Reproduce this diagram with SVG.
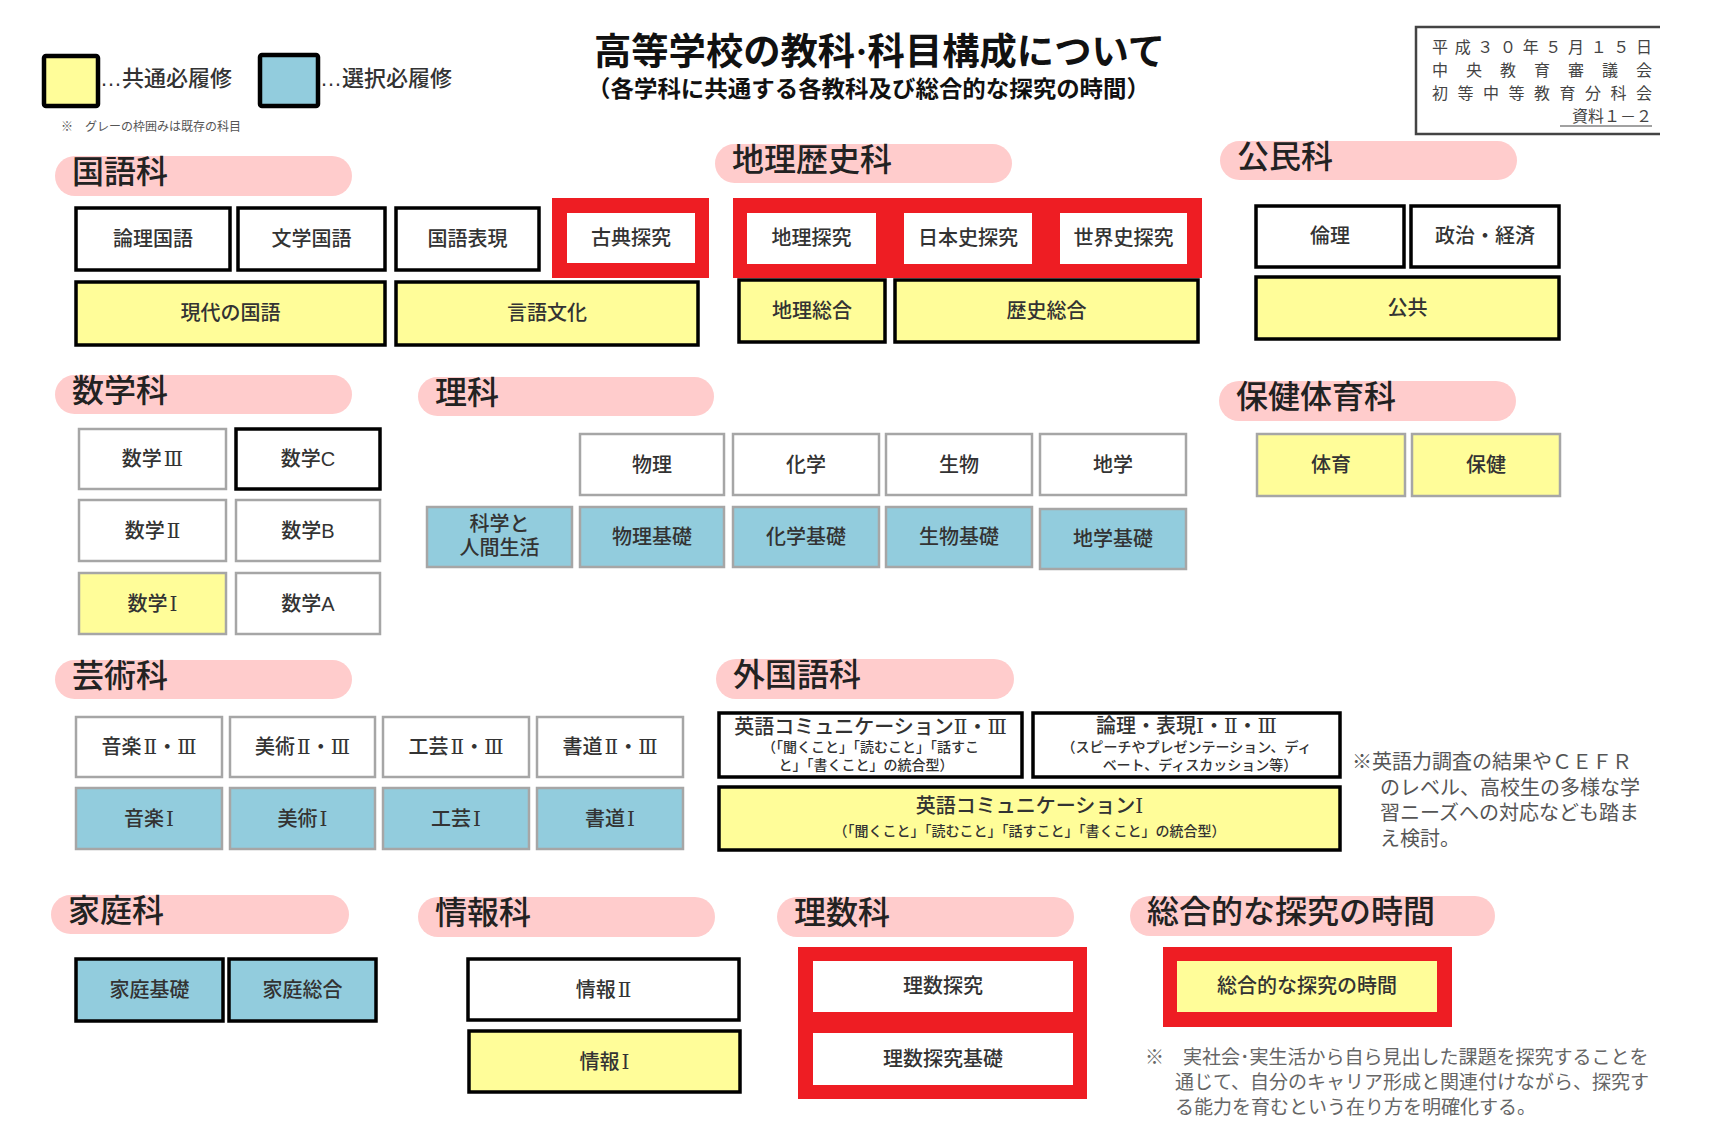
<svg xmlns="http://www.w3.org/2000/svg" width="1710" height="1148" viewBox="0 0 1710 1148">
<style>
.bg{fill:#fff}
.bw{fill:#fff;stroke:#000;stroke-width:3.5}
.by{fill:#FFFD99;stroke:#000;stroke-width:3.5}
.bb{fill:#92CCDD;stroke:#000;stroke-width:3.5}
.gw{fill:#fff;stroke:#A6A6A6;stroke-width:2.5}
.gy{fill:#FFFD99;stroke:#A6A6A6;stroke-width:2.5}
.gb{fill:#92CCDD;stroke:#A6A6A6;stroke-width:2.5}
.red{fill:#EE1D23}
.iw{fill:#fff}
.iy{fill:#FFFD99}
.pill{fill:#FFCCCC}
.pt{font-family:"Liberation Sans","Noto Sans CJK JP",sans-serif;font-size:32px;font-weight:500;fill:#222}
.t{font-family:"Liberation Sans","Noto Sans CJK JP",sans-serif;font-size:20px;font-weight:500;fill:#333;text-anchor:middle}
.ts{font-family:"Liberation Sans","Noto Sans CJK JP",sans-serif;font-size:14px;font-weight:500;fill:#333;text-anchor:middle}
.rn{font-family:"DejaVu Serif","Liberation Serif","Noto Sans CJK JP",serif;font-weight:normal}
.lg{font-family:"Liberation Sans","Noto Sans CJK JP",sans-serif;font-size:22px;font-weight:500;fill:#333}
.note{font-family:"Liberation Sans","Noto Sans CJK JP",sans-serif;font-size:20px;fill:#555}
.snote{font-family:"Liberation Serif","Noto Sans CJK JP",serif;font-size:19px;fill:#666}
.hd{font-family:"Liberation Serif","Noto Sans CJK JP",serif;font-weight:bold;fill:#111}
.rb{font-family:"Liberation Serif","Noto Sans CJK JP",serif;font-size:16px;fill:#444}
</style>
<rect class="bg" x="0" y="0" width="1710" height="1148"/>

<g id="legend">
  <rect x="44" y="56" width="54" height="50" rx="2" fill="#FFFD99" stroke="#000" stroke-width="4.5"/>
  <text class="lg" x="100" y="86">…共通必履修</text>
  <rect x="260" y="55" width="58" height="51" rx="2" fill="#92CCDD" stroke="#000" stroke-width="4.5"/>
  <text class="lg" x="320" y="86">…選択必履修</text>
  <text x="61" y="131" font-family="Liberation Sans,Noto Sans CJK JP,sans-serif" font-size="12" fill="#555">※　グレーの枠囲みは既存の科目</text>
</g>

<g id="title">
  <text class="hd" x="594" y="65" font-size="37" textLength="571" lengthAdjust="spacingAndGlyphs">高等学校の教科·科目構成について</text>
  <text class="hd" x="587" y="97" font-size="23" textLength="563" lengthAdjust="spacingAndGlyphs">（各学科に共通する各教科及び総合的な探究の時間）</text>
</g>

<g id="docinfo">
  <path d="M1660,27 H1416 V134 H1660" fill="none" stroke="#444" stroke-width="2.5"/>
  <text class="rb" x="1432" y="53" textLength="220" lengthAdjust="spacing">平成３０年５月１５日</text>
  <text class="rb" x="1432" y="76" textLength="220" lengthAdjust="spacing">中央教育審議会</text>
  <text class="rb" x="1432" y="99" textLength="220" lengthAdjust="spacing">初等中等教育分科会</text>
  <text class="rb" x="1652" y="122" text-anchor="end">資料１－２</text>
  <line x1="1560" y1="126" x2="1652" y2="126" stroke="#444" stroke-width="1.2"/>
</g>

<!-- 国語科 -->
<g id="sec-kokugo">
  <rect class="pill" x="55" y="156" width="297" height="40" rx="20"/>
  <text class="pt" x="72" y="183">国語科</text>
</g>
<g id="kokugo-ronri"><rect class="bw" x="76" y="208" width="154" height="62"/><text class="t" x="153" y="246">論理国語</text></g>
<g id="kokugo-bungaku"><rect class="bw" x="238" y="208" width="147" height="62"/><text class="t" x="311.5" y="246">文学国語</text></g>
<g id="kokugo-hyogen"><rect class="bw" x="396" y="208" width="143" height="62"/><text class="t" x="467.5" y="246">国語表現</text></g>
<g id="kokugo-koten"><rect class="red" x="552" y="198" width="157" height="80"/><rect class="iw" x="567" y="213" width="128" height="50"/><text class="t" x="631" y="245">古典探究</text></g>
<g id="kokugo-gendai"><rect class="by" x="76" y="282" width="309" height="63"/><text class="t" x="230.5" y="320">現代の国語</text></g>
<g id="kokugo-gengo"><rect class="by" x="396" y="282" width="302" height="63"/><text class="t" x="547" y="320">言語文化</text></g>

<!-- 地理歴史科 -->
<g id="sec-chireki">
  <rect class="pill" x="715" y="144" width="297" height="39" rx="19.5"/>
  <text class="pt" x="732" y="171">地理歴史科</text>
</g>
<g id="chireki-red"><rect class="red" x="733" y="198" width="469" height="80"/></g>
<g id="chireki-chiri"><rect class="iw" x="747" y="213" width="129" height="51"/><text class="t" x="811.5" y="245">地理探究</text></g>
<g id="chireki-nihon"><rect class="iw" x="904" y="213" width="128" height="51"/><text class="t" x="968" y="245">日本史探究</text></g>
<g id="chireki-sekai"><rect class="iw" x="1060" y="213" width="127" height="51"/><text class="t" x="1123.5" y="245">世界史探究</text></g>
<g id="chireki-chirisogo"><rect class="by" x="739" y="280" width="146" height="62"/><text class="t" x="812" y="318">地理総合</text></g>
<g id="chireki-rekishisogo"><rect class="by" x="895" y="280" width="303" height="62"/><text class="t" x="1046.5" y="318">歴史総合</text></g>

<!-- 公民科 -->
<g id="sec-komin">
  <rect class="pill" x="1220" y="141" width="297" height="39" rx="19.5"/>
  <text class="pt" x="1237" y="168">公民科</text>
</g>
<g id="komin-rinri"><rect class="bw" x="1256" y="206" width="148" height="61"/><text class="t" x="1330" y="243">倫理</text></g>
<g id="komin-seiji"><rect class="bw" x="1411" y="206" width="148" height="61"/><text class="t" x="1485" y="243">政治・経済</text></g>
<g id="komin-kokyo"><rect class="by" x="1256" y="277" width="303" height="62"/><text class="t" x="1407.5" y="315">公共</text></g>

<!-- 数学科 -->
<g id="sec-sugaku">
  <rect class="pill" x="55" y="375" width="297" height="39" rx="19.5"/>
  <text class="pt" x="72" y="402">数学科</text>
</g>
<g id="sugaku-3"><rect class="gw" x="79" y="429" width="147" height="60"/><text class="t" x="152.5" y="466">数学<tspan class="rn" dx="2">Ⅲ</tspan></text></g>
<g id="sugaku-c"><rect class="bw" x="236" y="429" width="144" height="60"/><text class="t" x="308" y="466">数学C</text></g>
<g id="sugaku-2"><rect class="gw" x="79" y="500" width="147" height="61"/><text class="t" x="152.5" y="538">数学<tspan class="rn" dx="2">Ⅱ</tspan></text></g>
<g id="sugaku-b"><rect class="gw" x="236" y="500" width="144" height="61"/><text class="t" x="308" y="538">数学B</text></g>
<g id="sugaku-1"><rect class="gy" x="79" y="573" width="147" height="61"/><text class="t" x="152.5" y="611">数学<tspan class="rn" dx="2">Ⅰ</tspan></text></g>
<g id="sugaku-a"><rect class="gw" x="236" y="573" width="144" height="61"/><text class="t" x="308" y="611">数学A</text></g>

<!-- 理科 -->
<g id="sec-rika">
  <rect class="pill" x="418" y="377" width="296" height="39" rx="19.5"/>
  <text class="pt" x="435" y="404">理科</text>
</g>
<g id="rika-butsuri"><rect class="gw" x="580" y="434" width="144" height="61"/><text class="t" x="652" y="472">物理</text></g>
<g id="rika-kagaku"><rect class="gw" x="733" y="434" width="146" height="61"/><text class="t" x="806" y="472">化学</text></g>
<g id="rika-seibutsu"><rect class="gw" x="886" y="434" width="146" height="61"/><text class="t" x="959" y="472">生物</text></g>
<g id="rika-chigaku"><rect class="gw" x="1040" y="434" width="146" height="61"/><text class="t" x="1113" y="472">地学</text></g>
<g id="rika-ningen"><rect class="gb" x="427" y="507" width="145" height="60"/><text class="t" x="499.5" y="531">科学と</text><text class="t" x="499.5" y="555">人間生活</text></g>
<g id="rika-butsurikiso"><rect class="gb" x="580" y="507" width="144" height="60"/><text class="t" x="652" y="544">物理基礎</text></g>
<g id="rika-kagakukiso"><rect class="gb" x="733" y="507" width="146" height="60"/><text class="t" x="806" y="544">化学基礎</text></g>
<g id="rika-seibutsukiso"><rect class="gb" x="886" y="507" width="146" height="60"/><text class="t" x="959" y="544">生物基礎</text></g>
<g id="rika-chigakukiso"><rect class="gb" x="1040" y="509" width="146" height="60"/><text class="t" x="1113" y="546">地学基礎</text></g>

<!-- 保健体育科 -->
<g id="sec-hotai">
  <rect class="pill" x="1219" y="381" width="297" height="40" rx="20"/>
  <text class="pt" x="1236" y="408">保健体育科</text>
</g>
<g id="hotai-taiiku"><rect class="gy" x="1257" y="434" width="148" height="62"/><text class="t" x="1331" y="472">体育</text></g>
<g id="hotai-hoken"><rect class="gy" x="1412" y="434" width="148" height="62"/><text class="t" x="1486" y="472">保健</text></g>

<!-- 芸術科 -->
<g id="sec-geijutsu">
  <rect class="pill" x="55" y="660" width="297" height="39" rx="19.5"/>
  <text class="pt" x="72" y="687">芸術科</text>
</g>
<g id="geijutsu-ongaku23"><rect class="gw" x="76" y="717" width="146" height="60"/><text class="t" x="149" y="754">音楽<tspan class="rn" dx="2">Ⅱ</tspan>・<tspan class="rn">Ⅲ</tspan></text></g>
<g id="geijutsu-bijutsu23"><rect class="gw" x="230" y="717" width="145" height="60"/><text class="t" x="302.5" y="754">美術<tspan class="rn" dx="2">Ⅱ</tspan>・<tspan class="rn">Ⅲ</tspan></text></g>
<g id="geijutsu-kogei23"><rect class="gw" x="383" y="717" width="146" height="60"/><text class="t" x="456" y="754">工芸<tspan class="rn" dx="2">Ⅱ</tspan>・<tspan class="rn">Ⅲ</tspan></text></g>
<g id="geijutsu-shodo23"><rect class="gw" x="537" y="717" width="146" height="60"/><text class="t" x="610" y="754">書道<tspan class="rn" dx="2">Ⅱ</tspan>・<tspan class="rn">Ⅲ</tspan></text></g>
<g id="geijutsu-ongaku1"><rect class="gb" x="76" y="788" width="146" height="61"/><text class="t" x="149" y="826">音楽<tspan class="rn" dx="2">Ⅰ</tspan></text></g>
<g id="geijutsu-bijutsu1"><rect class="gb" x="230" y="788" width="145" height="61"/><text class="t" x="302.5" y="826">美術<tspan class="rn" dx="2">Ⅰ</tspan></text></g>
<g id="geijutsu-kogei1"><rect class="gb" x="383" y="788" width="146" height="61"/><text class="t" x="456" y="826">工芸<tspan class="rn" dx="2">Ⅰ</tspan></text></g>
<g id="geijutsu-shodo1"><rect class="gb" x="537" y="788" width="146" height="61"/><text class="t" x="610" y="826">書道<tspan class="rn" dx="2">Ⅰ</tspan></text></g>

<!-- 外国語科 -->
<g id="sec-gaikokugo">
  <rect class="pill" x="716" y="659" width="298" height="40" rx="20"/>
  <text class="pt" x="733" y="686">外国語科</text>
</g>
<g id="gaikokugo-eicomm23"><rect class="bw" x="719" y="713" width="303" height="64"/>
  <text class="t" x="870.5" y="734" font-size="17">英語コミュニケーション<tspan class="rn">Ⅱ</tspan>・<tspan class="rn">Ⅲ</tspan></text>
  <text class="ts" x="870.5" y="752">（「聞くこと」「読むこと」「話すこ</text>
  <text class="ts" x="866" y="770">と」「書くこと」の統合型）</text>
</g>
<g id="gaikokugo-ronri"><rect class="bw" x="1033" y="713" width="307" height="64"/>
  <text class="t" x="1186.5" y="733" font-size="16">論理・表現<tspan class="rn">Ⅰ</tspan>・<tspan class="rn">Ⅱ</tspan>・<tspan class="rn">Ⅲ</tspan></text>
  <text class="ts" x="1186.5" y="752">（スピーチやプレゼンテーション、ディ</text>
  <text class="ts" x="1200" y="770">ベート、ディスカッション等）</text>
</g>
<g id="gaikokugo-eicomm1"><rect class="by" x="719" y="787" width="621" height="63"/>
  <text class="t" x="1029.5" y="813">英語コミュニケーション<tspan class="rn">Ⅰ</tspan></text>
  <text class="ts" x="1029.5" y="836" font-size="16">（「聞くこと」「読むこと」「話すこと」「書くこと」の統合型）</text>
</g>
<g id="note-eigo">
  <text class="note" x="1352" y="769">※英語力調査の結果やＣＥＦＲ</text>
  <text class="note" x="1380" y="795">のレベル、高校生の多様な学</text>
  <text class="note" x="1380" y="820">習ニーズへの対応なども踏ま</text>
  <text class="note" x="1380" y="846">え検討。</text>
</g>

<!-- 家庭科 -->
<g id="sec-katei">
  <rect class="pill" x="51" y="895" width="298" height="39" rx="19.5"/>
  <text class="pt" x="68" y="922">家庭科</text>
</g>
<g id="katei-kiso"><rect class="bb" x="76" y="959" width="147" height="62"/><text class="t" x="149.5" y="997">家庭基礎</text></g>
<g id="katei-sogo"><rect class="bb" x="229" y="959" width="147" height="62"/><text class="t" x="302.5" y="997">家庭総合</text></g>

<!-- 情報科 -->
<g id="sec-joho">
  <rect class="pill" x="418" y="897" width="297" height="40" rx="20"/>
  <text class="pt" x="435" y="924">情報科</text>
</g>
<g id="joho-2"><rect class="bw" x="468" y="959" width="271" height="61"/><text class="t" x="603.5" y="997">情報<tspan class="rn" dx="2">Ⅱ</tspan></text></g>
<g id="joho-1"><rect class="by" x="469" y="1031" width="271" height="61"/><text class="t" x="604.5" y="1069">情報<tspan class="rn" dx="2">Ⅰ</tspan></text></g>

<!-- 理数科 -->
<g id="sec-risu">
  <rect class="pill" x="777" y="897" width="297" height="40" rx="20"/>
  <text class="pt" x="794" y="924">理数科</text>
</g>
<g id="risu-red"><rect class="red" x="798" y="947" width="289" height="152"/></g>
<g id="risu-tankyu"><rect class="iw" x="813" y="961" width="260" height="51"/><text class="t" x="943" y="993">理数探究</text></g>
<g id="risu-tankyukiso"><rect class="iw" x="813" y="1033" width="260" height="52"/><text class="t" x="943" y="1066">理数探究基礎</text></g>

<!-- 総合的な探究の時間 -->
<g id="sec-sogo">
  <rect class="pill" x="1130" y="896" width="365" height="40" rx="20"/>
  <text class="pt" x="1147" y="923">総合的な探究の時間</text>
</g>
<g id="sogo-jikan"><rect class="red" x="1163" y="947" width="289" height="80"/><rect class="iy" x="1177" y="961" width="260" height="51"/><text class="t" x="1307" y="993">総合的な探究の時間</text></g>
<g id="note-sogo">
  <text class="snote" x="1145" y="1064">※　実社会･実生活から自ら見出した課題を探究することを</text>
  <text class="snote" x="1175" y="1089">通じて、自分のキャリア形成と関連付けながら、探究す</text>
  <text class="snote" x="1175" y="1114">る能力を育むという在り方を明確化する。</text>
</g>

<g id="connectors"/>
</svg>
